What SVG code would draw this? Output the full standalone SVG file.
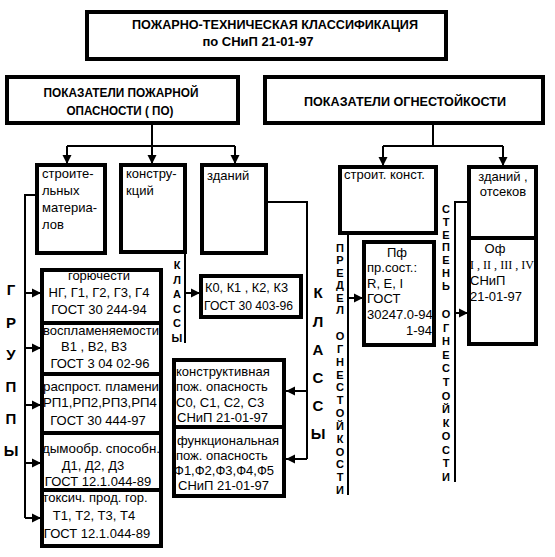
<svg xmlns="http://www.w3.org/2000/svg" width="555" height="557" viewBox="0 0 555 557">
<defs>
<marker id="ah" markerUnits="userSpaceOnUse" markerWidth="10" markerHeight="10" refX="9" refY="5" orient="auto">
<path d="M0,0.5 L9,5 L0,9.5 Z" fill="#000"/>
</marker>
<style>
.box{fill:#fff;stroke:#000;stroke-width:4}
.ln{fill:none;stroke:#000;stroke-width:2}
.ar{fill:none;stroke:#000;stroke-width:2;marker-end:url(#ah)}
.hd{font-family:"Liberation Sans",Arial,sans-serif;font-weight:bold;font-size:13px;fill:#000}
.t{font-family:"Liberation Sans",Arial,sans-serif;font-size:13px;fill:#000}
.c{text-anchor:middle}
.vl{font-family:"Liberation Sans",Arial,sans-serif;font-weight:bold;font-size:15px;fill:#000;text-anchor:middle}
.vs{font-family:"Liberation Sans",Arial,sans-serif;font-weight:bold;font-size:11px;fill:#000;text-anchor:middle}
.sr{font-family:"Liberation Serif","Times New Roman",serif;font-size:13px;fill:#000}
</style>
</defs>
<rect width="555" height="557" fill="#fff"/>

<g id="connectors">
<path class="ln" d="M152,124 V146 M67,146 H235"/>
<path class="ar" d="M67,146 V164"/>
<path class="ar" d="M152,146 V164"/>
<path class="ar" d="M235,146 V164"/>
<path class="ln" d="M433,124 V146 M383,146 H503"/>
<path class="ar" d="M383,146 V166"/>
<path class="ar" d="M503,146 V166"/>
<path class="ln" d="M36,195 H25 V518"/>
<path class="ar" d="M25,293 H41"/>
<path class="ar" d="M25,348 H41"/>
<path class="ar" d="M25,405 H41"/>
<path class="ar" d="M25,463 H41"/>
<path class="ar" d="M25,518 H41"/>
<path class="ln" d="M185,253 V343"/>
<path class="ar" d="M185,293 H200"/>
<path class="ln" d="M267,202 H307 V459"/>
<path class="ar" d="M307,391 H286"/>
<path class="ar" d="M307,459 H286"/>
<path class="ln" d="M348,234 V495"/>
<path class="ar" d="M348,298 H363"/>
<path class="ln" d="M468,202 H455 V482"/>
<path class="ar" d="M455,313 H468"/>
</g>

<g id="title">
<rect class="box" x="87" y="12" width="359" height="47"/>
<text class="hd c" x="275" y="29" font-size="12" textLength="286" lengthAdjust="spacingAndGlyphs">ПОЖАРНО-ТЕХНИЧЕСКАЯ КЛАССИФИКАЦИЯ</text>
<text class="hd c" x="258" y="46" font-size="12">по СНиП 21-01-97</text>
</g>

<g id="fire-danger">
<rect class="box" x="7" y="77" width="231" height="46"/>
<text class="hd c" x="121" y="97" font-size="14" textLength="155" lengthAdjust="spacingAndGlyphs">ПОКАЗАТЕЛИ ПОЖАРНОЙ</text>
<text class="hd c" x="120" y="115" font-size="14" textLength="107" lengthAdjust="spacingAndGlyphs">ОПАСНОСТИ ( ПО)</text>
</g>

<g id="fire-resistance">
<rect class="box" x="265" y="77" width="278" height="46"/>
<text class="hd c" x="405" y="106" font-size="14" textLength="202" lengthAdjust="spacingAndGlyphs">ПОКАЗАТЕЛИ ОГНЕСТОЙКОСТИ</text>
</g>

<g id="materials">
<rect class="box" x="37" y="165" width="68" height="88"/>
<text class="t" x="42" y="178">строите-</text>
<text class="t" x="42" y="195">льных</text>
<text class="t" x="42" y="212">материа-</text>
<text class="t" x="42" y="229">лов</text>
</g>

<g id="constructions">
<rect class="box" x="121" y="165" width="64" height="87"/>
<text class="t" x="126" y="178">констру-</text>
<text class="t" x="126" y="195">кций</text>
</g>

<g id="buildings">
<rect class="box" x="202" y="165" width="64" height="88"/>
<text class="t" x="207" y="180">зданий</text>
</g>

<g id="groups-label">
<text class="vl"><tspan x="11" y="295">Г</tspan><tspan x="11" y="328">Р</tspan><tspan x="11" y="360">У</tspan><tspan x="11" y="392">П</tspan><tspan x="11" y="424">П</tspan><tspan x="11" y="456">Ы</tspan></text>
</g>

<g id="groups">
<rect class="box" x="42" y="270" width="119" height="276"/>
<path class="box" d="M42,323 H161 M42,374 H161 M42,433 H161 M42,490 H161"/>
<text class="t c" x="99" y="280">горючести</text>
<text class="t c" x="99" y="297">НГ, Г1, Г2, Г3, Г4</text>
<text class="t c" x="99" y="314">ГОСТ 30 244-94</text>
<text class="t c" x="101" y="335" textLength="116" lengthAdjust="spacingAndGlyphs">воспламеняемости</text>
<text class="t c" x="94" y="351">В1 , В2, В3</text>
<text class="t c" x="100" y="368">ГОСТ 3 04 02-96</text>
<text class="t c" x="101" y="391" textLength="116" lengthAdjust="spacingAndGlyphs">распрост. пламени</text>
<text class="t c" x="100" y="407" textLength="114" lengthAdjust="spacingAndGlyphs">РП1,РП2,РП3,РП4</text>
<text class="t c" x="98" y="425">ГОСТ 30 444-97</text>
<text class="t c" x="101" y="453" textLength="118" lengthAdjust="spacingAndGlyphs">дымообр. способн.</text>
<text class="t c" x="93" y="470">Д1, Д2, Д3</text>
<text class="t c" x="98" y="486">ГОСТ 12.1.044-89</text>
<text class="t c" x="95" y="502">токсич. прод. гор.</text>
<text class="t c" x="94" y="520">Т1, Т2, Т3, Т4</text>
<text class="t c" x="97" y="538">ГОСТ 12.1.044-89</text>
</g>

<g id="classes-small-label">
<text class="vs" font-size="12"><tspan x="177" y="269">К</tspan><tspan x="177" y="283.6">Л</tspan><tspan x="177" y="298.2">А</tspan><tspan x="177" y="312.8">С</tspan><tspan x="177" y="327.4">С</tspan><tspan x="177" y="342">Ы</tspan></text>
</g>

<g id="k-classes">
<rect class="box" x="201" y="276" width="100" height="41"/>
<text class="t" x="205" y="292" textLength="83" lengthAdjust="spacingAndGlyphs">К0, К1 , К2, К3</text>
<text class="t" x="204" y="310" textLength="89" lengthAdjust="spacingAndGlyphs">ГОСТ 30 403-96</text>
</g>

<g id="classes-big-label">
<text class="vl"><tspan x="318" y="298">К</tspan><tspan x="318" y="327">Л</tspan><tspan x="318" y="355">А</tspan><tspan x="318" y="383">С</tspan><tspan x="318" y="411">С</tspan><tspan x="318" y="439">Ы</tspan></text>
</g>

<g id="building-classes">
<rect class="box" x="174" y="360" width="110" height="136"/>
<path class="box" d="M174,427 H284"/>
<text class="t" x="176" y="376">конструктивная</text>
<text class="t" x="176" y="391">пож. опасность</text>
<text class="t" x="176" y="407">С0, С1, С2, С3</text>
<text class="t" x="177" y="422">СНиП 21-01-97</text>
<text class="t" x="177" y="445">функциональная</text>
<text class="t" x="176" y="460">пож. опасность</text>
<text class="t" x="174" y="475">Ф1,Ф2,Ф3,Ф4,Ф5</text>
<text class="t" x="178" y="490">СНиП 21-01-97</text>
</g>

<g id="struct-constructions">
<rect class="box" x="340" y="167" width="96" height="66"/>
<text class="t" x="344" y="179">строит. конст.</text>
</g>

<g id="limit-label">
<text class="vs"><tspan x="340" y="252">П</tspan><tspan x="340" y="264.4">Р</tspan><tspan x="340" y="276.8">Е</tspan><tspan x="340" y="289.2">Д</tspan><tspan x="340" y="301.6">Е</tspan><tspan x="340" y="314">Л</tspan><tspan x="340" y="340">О</tspan><tspan x="340" y="352.8">Г</tspan><tspan x="340" y="365.7">Н</tspan><tspan x="340" y="378.5">Е</tspan><tspan x="340" y="391.3">С</tspan><tspan x="340" y="404.2">Т</tspan><tspan x="340" y="417">О</tspan><tspan x="340" y="429.8">Й</tspan><tspan x="340" y="442.7">К</tspan><tspan x="340" y="455.5">О</tspan><tspan x="340" y="468.3">С</tspan><tspan x="340" y="481.2">Т</tspan><tspan x="340" y="494">И</tspan></text>
</g>

<g id="pf">
<rect class="box" x="364" y="242" width="70" height="103"/>
<text class="t c" x="397" y="257">Пф</text>
<text class="t" x="367" y="272">пр.сост.:</text>
<text class="t" x="367" y="288">R, E, I</text>
<text class="t" x="367" y="303">ГОСТ</text>
<text class="t" x="367" y="319">30247.0-94</text>
<text class="t" x="432" y="335" text-anchor="end">1-94</text>
</g>

<g id="degree-label">
<text class="vs"><tspan x="446" y="213">С</tspan><tspan x="446" y="225.8">Т</tspan><tspan x="446" y="238.6">Е</tspan><tspan x="446" y="251.4">П</tspan><tspan x="446" y="264.2">Е</tspan><tspan x="446" y="277">Н</tspan><tspan x="446" y="289.8">Ь</tspan><tspan x="446" y="318">О</tspan><tspan x="446" y="331.6">Г</tspan><tspan x="446" y="345.2">Н</tspan><tspan x="446" y="358.7">Е</tspan><tspan x="446" y="372.3">С</tspan><tspan x="446" y="385.9">Т</tspan><tspan x="446" y="399.5">О</tspan><tspan x="446" y="413.1">Й</tspan><tspan x="446" y="426.7">К</tspan><tspan x="446" y="440.2">О</tspan><tspan x="446" y="453.8">С</tspan><tspan x="446" y="467.4">Т</tspan><tspan x="446" y="481">И</tspan></text>
</g>

<g id="buildings-compartments">
<rect class="box" x="469" y="167" width="67" height="177"/>
<path class="box" d="M469,238 H536"/>
<text class="t c" x="503" y="181">зданий ,</text>
<text class="t c" x="503" y="196">отсеков</text>
<text class="t c" x="495" y="253">Оф</text>
<text class="sr" x="470" y="269" textLength="64" lengthAdjust="spacingAndGlyphs">I , II , III , IV</text>
<text class="t" x="470" y="285">СНиП</text>
<text class="t" x="470" y="301">21-01-97</text>
</g>
</svg>
